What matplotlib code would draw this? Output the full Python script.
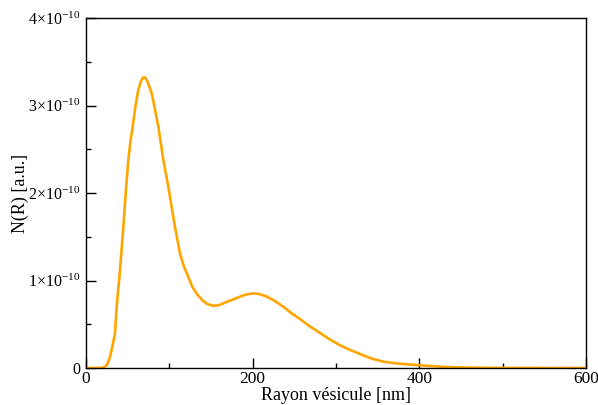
import matplotlib
matplotlib.use("Agg")
import matplotlib.pyplot as plt
from matplotlib.ticker import FixedLocator, FuncFormatter

radius_nm = [0, 10, 20, 25, 28.8, 32, 34.8, 36.8, 40.8, 44.8, 47.5, 50.8, 53.5, 56, 59.5, 62.8,
             66, 68.5, 70.8, 73, 75.5, 78.8, 82.5, 86.8, 92.8, 98.8, 106.8, 112.8, 117.5, 122.8,
             127.5, 132.8, 140, 146, 152.8, 160, 170, 184.8, 192, 200.8, 208, 216, 226, 236.8,
             246, 256.8, 268, 280.8, 292, 304.8, 316, 328.8, 342, 356.8, 375, 396.8, 420, 440,
             460.8, 480, 520, 560, 600]
n_r = [0, 0, 0.003, 0.03, 0.126, 0.26, 0.40, 0.70, 1.12, 1.61, 1.98, 2.38, 2.60, 2.76, 3.0, 3.18,
       3.28, 3.32, 3.32, 3.29, 3.23, 3.14, 2.97, 2.76, 2.38, 2.07, 1.61, 1.31, 1.16, 1.04,
       0.93, 0.85, 0.77, 0.73, 0.71, 0.72, 0.76, 0.815, 0.84, 0.853, 0.845, 0.82, 0.77, 0.70,
       0.63, 0.56, 0.48, 0.40, 0.33, 0.26, 0.21, 0.16, 0.11, 0.072, 0.05, 0.034, 0.018, 0.009,
       0.004, 0.002, 0.001, 0.0, 0.0]
n_r = [v * 1e-10 for v in n_r]

x_major = [0, 200, 400, 600]
x_minor = [100, 300, 500]
y_major_units = [0, 1, 2, 3, 4]
y_minor_units = [0.5, 1.5, 2.5, 3.5]

plt.rcParams['font.family'] = ['Liberation Serif', 'DejaVu Serif']
plt.rcParams['mathtext.fontset'] = 'custom'
plt.rcParams['mathtext.rm'] = 'Liberation Serif'
plt.rcParams['mathtext.it'] = 'Liberation Serif:italic'

fig = plt.figure(figsize=(5.98, 4.05), dpi=100)
ax = fig.add_axes([86/598, 37/405, 500/598, 350/405])
ax.plot(radius_nm, n_r, color='#FFA500', lw=1.9)

ax.set_xlim(0, 600)
ax.set_ylim(0, 4e-10)
ax.xaxis.set_major_locator(FixedLocator(x_major))
ax.xaxis.set_minor_locator(FixedLocator(x_minor))
ax.yaxis.set_major_locator(FixedLocator([u * 1e-10 for u in y_major_units]))
ax.yaxis.set_minor_locator(FixedLocator([u * 1e-10 for u in y_minor_units]))

def yfmt(v, pos):
    k = int(round(v / 1e-10))
    if k == 0:
        return "0"
    return "%d×10$^{\\mathregular{-10}}$" % k

ax.yaxis.set_major_formatter(FuncFormatter(yfmt))
ax.tick_params(which='both', direction='in', top=False, right=False, width=1)
ax.tick_params(axis='x', labelsize=12.5, pad=2)
ax.tick_params(axis='y', labelsize=11.5, pad=4)
ax.tick_params(which='major', length=7)
ax.tick_params(which='minor', length=3.5)
for s in ax.spines.values():
    s.set_linewidth(1)

ax.set_xlabel("Rayon vésicule [nm]", fontsize=13, labelpad=0)
ax.set_ylabel("N(R) [a.u.]", fontsize=13)
ax.yaxis.set_label_coords(-0.114, 0.5)

fig.savefig("out.png", dpi=100)
